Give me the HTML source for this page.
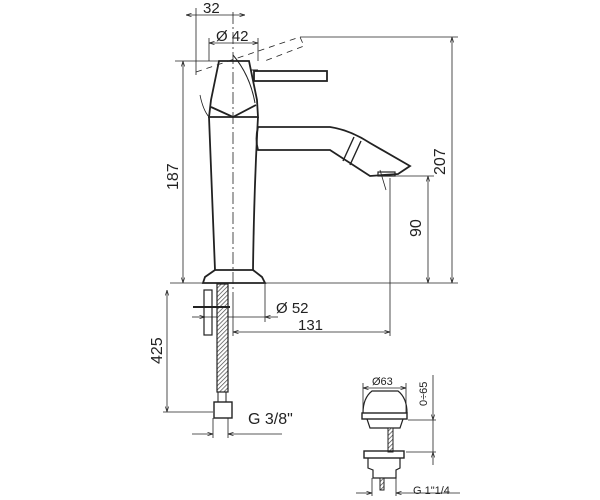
<!DOCTYPE html>
<html><head><meta charset="utf-8"><style>
html,body{margin:0;padding:0;background:#fff}
svg{display:block}
text{font-family:"Liberation Sans",sans-serif;fill:#222}
</style></head><body>
<svg width="600" height="500" viewBox="0 0 600 500" xmlns="http://www.w3.org/2000/svg">
<defs>
<marker id="a" viewBox="0 0 10 10" refX="10" refY="5" markerWidth="7" markerHeight="7" orient="auto-start-reverse"><path d="M0,2 L10,5 L0,8" fill="none" stroke="#222" stroke-width="1.2"/></marker>
<pattern id="h" width="3" height="3" patternUnits="userSpaceOnUse" patternTransform="rotate(45)"><rect width="3" height="3" fill="#fff"/><line x1="0" y1="0" x2="0" y2="3" stroke="#444" stroke-width="1.4"/></pattern>
</defs>
<g stroke="#222" fill="none" stroke-width="0.8">
<!-- dimension 32 -->
<line x1="196" y1="8" x2="196" y2="75"/>
<line x1="186" y1="15" x2="245" y2="15" marker-start="url(#a)" marker-end="url(#a)"/>
<!-- 42 -->
<line x1="209" y1="38" x2="209" y2="61"/><line x1="258" y1="38" x2="258" y2="61"/>
<line x1="209" y1="43" x2="258" y2="43" marker-start="url(#a)" marker-end="url(#a)"/>
<!-- centerline -->
<line x1="233" y1="12" x2="233" y2="292" stroke-dasharray="12,3,2,3"/>
<!-- 187 -->
<line x1="175" y1="61" x2="219" y2="61"/>
<line x1="183" y1="61" x2="183" y2="283" marker-start="url(#a)" marker-end="url(#a)"/>
<!-- 207 -->
<line x1="300" y1="37" x2="458" y2="37"/>
<line x1="452" y1="37" x2="452" y2="283" marker-start="url(#a)" marker-end="url(#a)"/>
<!-- 90 -->
<line x1="384" y1="176" x2="434" y2="176"/>
<line x1="428" y1="176" x2="428" y2="283" marker-start="url(#a)" marker-end="url(#a)"/>
<!-- base line -->
<line x1="170" y1="283" x2="458" y2="283"/>
<!-- 131 ext -->
<line x1="390" y1="178" x2="390" y2="336"/>
<line x1="233" y1="292" x2="233" y2="336"/>
<line x1="233" y1="332" x2="390" y2="332" marker-start="url(#a)" marker-end="url(#a)"/>
<!-- 52 -->
<line x1="265" y1="284" x2="265" y2="322"/>
<line x1="192" y1="317" x2="205" y2="317" marker-end="url(#a)"/>
<line x1="265" y1="317" x2="278" y2="317" marker-start="url(#a)"/>
<line x1="205" y1="317" x2="265" y2="317"/>
<!-- 425 -->
<line x1="167" y1="290" x2="167" y2="412" marker-start="url(#a)" marker-end="url(#a)"/>
<line x1="163" y1="412" x2="213" y2="412"/>
<!-- G3/8 -->
<line x1="213" y1="418" x2="213" y2="438"/><line x1="228" y1="418" x2="228" y2="438"/>
<line x1="192" y1="434" x2="213" y2="434" marker-end="url(#a)"/>
<line x1="282" y1="434" x2="228" y2="434" marker-end="url(#a)"/>
<!-- handle ghost -->
<path d="M196,72 L300,37 L304,46 L262,62" stroke-dasharray="6,5"/>
<path d="M200,95 Q203,110 209,117"/>
<path d="M380,170 L386,190"/>
</g>
<g stroke="#222" fill="none" stroke-width="1.8">
<!-- head -->
<path d="M219,61 L249,61 L257,100 L258,117 L209,117 L211,100 Z"/>
<path d="M211,107 L233,117 L256,105"/>
<path d="M233,55 Q250,75 255,103" stroke-width="1"/>
<path d="M258,70 L250,70" stroke-width="1"/>
<!-- lever -->
<rect x="254" y="71" width="73" height="10"/>
<!-- body -->
<path d="M209,117 Q212,190 215,270 L253,270 Q254,190 258,117"/>
<!-- base -->
<path d="M215,270 L205,277 L203,283 L265,283 L262,277 L253,270"/>
<!-- spout -->
<path d="M258,127 Q255,139 258,150 L330,150 L370,176 L398,174 L410,166 L370,143 Q350,130 330,127 Z"/>
<path d="M343,161 L354,137 M350,165 L361,141" stroke-width="1.4"/>
<rect x="378" y="172" width="17" height="4" stroke-width="1.2"/>
<!-- rod + hose -->
<rect x="204" y="290" width="8" height="45" stroke-width="1.2"/>
<rect x="217" y="284" width="11" height="108" fill="url(#h)" stroke-width="1.2"/>
<line x1="193" y1="307" x2="230" y2="307" stroke-width="2"/>
<rect x="214" y="402" width="18" height="16" stroke-width="1.4"/>
<line x1="218" y1="392" x2="218" y2="402" stroke-width="1"/><line x1="226" y1="392" x2="226" y2="402" stroke-width="1"/>
<!-- pop-up -->
<path d="M363,413 Q363,398 372,391 L398,391 Q407,398 407,413" stroke-width="1.2"/>
<rect x="362" y="413" width="45" height="6" stroke-width="1.4"/>
<path d="M367,419 L370,428 L400,428 L403,419" stroke-width="1.2"/>
<rect x="388" y="428" width="5" height="24" fill="url(#h)" stroke-width="1"/>
<rect x="364" y="451" width="40" height="7" stroke-width="1.4"/>
<path d="M368,458 L368,468 L373,470 L373,478 L396,478 L396,470 L400,468 L400,458" stroke-width="1.2"/>
<rect x="380" y="478" width="4" height="12" fill="url(#h)" stroke-width="1"/>
</g>
<g stroke="#222" fill="none" stroke-width="0.8">
<line x1="363" y1="383" x2="363" y2="413"/><line x1="406" y1="383" x2="406" y2="413"/>
<line x1="363" y1="388" x2="406" y2="388" marker-start="url(#a)" marker-end="url(#a)"/>
<line x1="408" y1="420" x2="436" y2="420"/><line x1="406" y1="452" x2="436" y2="452"/>
<line x1="433" y1="375" x2="433" y2="420" marker-end="url(#a)"/>
<line x1="433" y1="465" x2="433" y2="452" marker-end="url(#a)"/>
<line x1="433" y1="420" x2="433" y2="452"/>
<line x1="372" y1="478" x2="372" y2="496"/><line x1="396" y1="478" x2="396" y2="496"/>
<line x1="356" y1="493" x2="372" y2="493" marker-end="url(#a)"/>
<line x1="460" y1="493" x2="396" y2="493" marker-end="url(#a)"/>
</g>
<text x="203" y="13" font-size="15">32</text>
<text x="216" y="41" font-size="15">Ø 42</text>
<text x="0" y="0" font-size="16" transform="translate(178,190) rotate(-90)">187</text>
<text x="0" y="0" font-size="16" transform="translate(445,175) rotate(-90)">207</text>
<text x="0" y="0" font-size="16" transform="translate(421,237) rotate(-90)">90</text>
<text x="276" y="313" font-size="15">Ø 52</text>
<text x="298" y="330" font-size="15">131</text>
<text x="0" y="0" font-size="16" transform="translate(162,364) rotate(-90)">425</text>
<text x="248" y="424" font-size="16">G 3/8"</text>
<text x="372" y="385" font-size="11">Ø63</text>
<text x="0" y="0" font-size="11" transform="translate(427,406) rotate(-90)">0÷65</text>
<text x="413" y="494" font-size="11">G 1"1/4</text>
</svg>
</body></html>
